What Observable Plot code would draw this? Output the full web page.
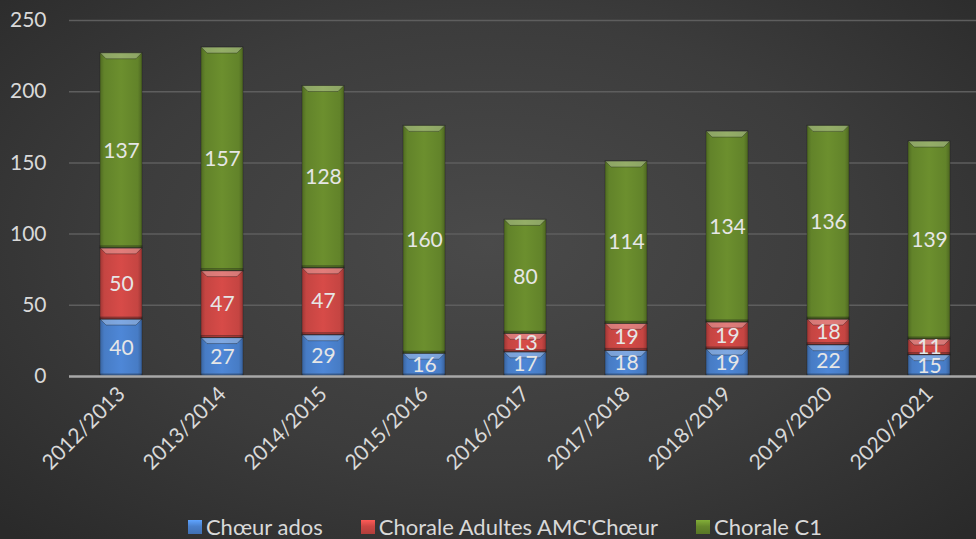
<!DOCTYPE html>
<html>
<head>
<meta charset="utf-8">
<script src="https://cdn.jsdelivr.net/npm/d3@7"></script>
<script src="https://cdn.jsdelivr.net/npm/@observablehq/plot@0.6"></script>
<style>
  html, body { margin: 0; padding: 0; }
  body {
    width: 976px; height: 539px; overflow: hidden; position: relative;
    background: radial-gradient(ellipse 70% 75% at 50% 45%, #4a4a4a 0%, #3c3c3c 55%, #2a2a2a 100%);
    font-family: Lato, "Open Sans", sans-serif;
  }
  #chart { position: absolute; left: 0; top: 0; }
  #legend {
    position: absolute; left: 17px; top: 513px; width: 976px;
    display: flex; justify-content: center; gap: 38px;
    color: #d9d9d9; font-size: 22px; font-family: Lato, "Open Sans", sans-serif;
  }
  #legend .item { display: flex; align-items: center; gap: 4px; }
  #legend .sw { width: 14px; height: 14px; display: inline-block; }
</style>
</head>
<body>
<div id="chart"></div>
<div id="legend"></div>
<script>
const seasons = ["2012/2013","2013/2014","2014/2015","2015/2016","2016/2017","2017/2018","2018/2019","2019/2020","2020/2021"];
const series = ["Chœur ados","Chorale Adultes AMC'Chœur","Chorale C1"];
const choeurAdos = [40, 27, 29, 16, 17, 18, 19, 22, 15];
const choraleAdultes = [50, 47, 47, 0, 13, 19, 19, 18, 11];
const choraleC1 = [137, 157, 128, 160, 80, 114, 134, 136, 139];
const yTicks = [0, 50, 100, 150, 200, 250];
const baseColors = ["#4a80cc", "#cc4744", "#66882c"];
const gradIds = ["gBlue", "gRed", "gGreen"];

const values = [choeurAdos, choraleAdultes, choraleC1];
const data = [];
series.forEach((s, i) => seasons.forEach((season, j) => data.push({season, series: s, value: values[i][j]})));

const svgNS = "http://www.w3.org/2000/svg";

function bevel(index, scales, vals, dims, context, next) {
  const g = next(index, scales, vals, dims, context);
  const rects = Array.from(g.querySelectorAll("rect"));
  rects.forEach(r => {
    const x = +r.getAttribute("x"), y = +r.getAttribute("y");
    const w = +r.getAttribute("width"), h = +r.getAttribute("height");
    if (!(h > 2)) return;
    const b = Math.min(6, h / 2);
    const top = document.createElementNS(svgNS, "polygon");
    top.setAttribute("points", `${x},${y} ${x + w},${y} ${x + w - b},${y + b} ${x + b},${y + b}`);
    top.setAttribute("fill", "#ffffff");
    top.setAttribute("fill-opacity", "0.28");
    g.appendChild(top);
    const bot = document.createElementNS(svgNS, "rect");
    bot.setAttribute("x", x); bot.setAttribute("y", y + h - 2);
    bot.setAttribute("width", w); bot.setAttribute("height", 2);
    bot.setAttribute("fill", "#000000"); bot.setAttribute("fill-opacity", "0.2");
    g.appendChild(bot);
  });
  return g;
}

const plot = Plot.plot({
  width: 976,
  height: 505,
  marginLeft: 69,
  marginRight: -4,
  marginTop: 20,
  marginBottom: 129,
  style: {background: "transparent", color: "#d9d9d9", fontFamily: "Lato, 'Open Sans', sans-serif", fontSize: "21px", overflow: "hidden"},
  x: {domain: seasons, paddingInner: 0.585, paddingOuter: 0.2925, label: null, tickSize: 0, tickPadding: 14, tickRotate: -45},
  y: {domain: [0, 250], ticks: yTicks, label: null, tickSize: 0, tickPadding: 23},
  color: {domain: series, range: gradIds.map(id => `url(#${id})`)},
  marks: [
    Plot.gridY(yTicks.filter(d => d > 0), {stroke: "#5e5e5e", strokeOpacity: 1, strokeWidth: 1.5}),
    Plot.barY(data, {x: "season", y: "value", fill: "series", order: series, stroke: "#1a1a1a", strokeOpacity: 0.35, strokeWidth: 1, render: bevel}),
    Plot.ruleY([0], {stroke: "#a8a8a8", strokeWidth: 2.5}),
    Plot.text(data, Plot.stackY({x: "season", y: "value", z: "series", order: series, text: d => d.value > 0 ? String(d.value) : "", fill: "#e6e6e6", fontSize: 21}))
  ]
});

// gradients
const defs = document.createElementNS(svgNS, "defs");
baseColors.forEach((c, i) => {
  const g = document.createElementNS(svgNS, "linearGradient");
  g.setAttribute("id", gradIds[i]);
  g.setAttribute("x1", "0"); g.setAttribute("x2", "1"); g.setAttribute("y1", "0"); g.setAttribute("y2", "0");
  const base = d3.color(c);
  const stops = [[0, base.darker(0.7)], [0.1, base.darker(0.1)], [0.5, base.brighter(0.15)], [0.9, base.darker(0.1)], [1, base.darker(0.8)]];
  stops.forEach(([o, col]) => {
    const s = document.createElementNS(svgNS, "stop");
    s.setAttribute("offset", o);
    s.setAttribute("stop-color", col.formatHex());
    g.appendChild(s);
  });
  defs.appendChild(g);
});
plot.insertBefore(defs, plot.firstChild);
document.getElementById("chart").appendChild(plot);

// legend
const legend = document.getElementById("legend");
series.forEach((s, i) => {
  const item = document.createElement("span");
  item.className = "item";
  const sw = document.createElement("span");
  sw.className = "sw";
  const b = d3.color(baseColors[i]);
  sw.style.background = `linear-gradient(to bottom, ${b.brighter(0.7).formatHex()}, ${b.formatHex()} 45%, ${b.darker(0.4).formatHex()})`;
  item.appendChild(sw);
  item.appendChild(document.createTextNode(s));
  legend.appendChild(item);
});
</script>
</body>
</html>
